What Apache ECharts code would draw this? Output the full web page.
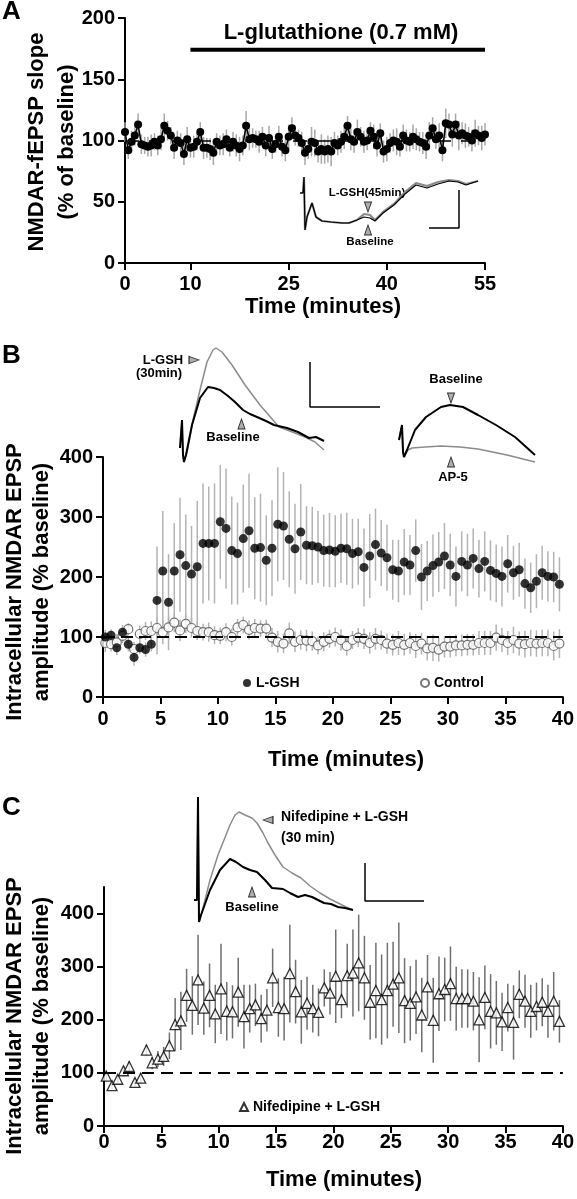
<!DOCTYPE html>
<html><head><meta charset="utf-8">
<script src="https://cdn.jsdelivr.net/npm/echarts@6/dist/echarts.min.js"></script>
<style>html,body{margin:0;padding:0;background:#fff}#c{width:577px;height:1199px}</style>
</head><body><div id="c"></div>
<script>
// ---------- Panel A data ----------
const timesA = [0,0.5,1,1.5,2,2.5,3,3.5,4,4.5,5,5.5,6,6.5,7,7.5,8,8.5,9,9.5,10,10.5,11,11.5,12,12.5,13,13.5,14,14.5,15,15.5,16,16.5,17,17.5,18,18.5,19,19.5,20,20.5,21,21.5,22,22.5,23,23.5,24,24.5,25,25.5,26,26.5,27,27.5,28,28.5,29,29.5,30,30.5,31,31.5,32,32.5,33,33.5,34,34.5,35,35.5,36,36.5,37,37.5,38,38.5,39,39.5,40,40.5,41,41.5,42,42.5,43,43.5,44,44.5,45,45.5,46,46.5,47,47.5,48,48.5,49,49.5,50,50.5,51,51.5,52,52.5,53,53.5,54,54.5,55];
const slopeA = [107,92,99,104,113,97,96,95,96,99,96,101,112,108,104,94,100,98,89,101,94,95,99,107,94,94,93,90,99,96,97,101,94,99,96,93,96,112,101,102,101,99,103,96,102,93,97,103,95,92,103,110,104,102,98,90,93,99,98,91,93,91,93,91,98,96,99,103,112,101,99,107,103,99,100,108,103,96,106,91,93,98,100,99,95,104,100,99,103,101,99,98,95,104,110,101,104,92,114,113,105,113,104,106,104,103,100,106,104,102,105];
const semA = [8,7,9,8,9,8,7,8,9,7,8,9,10,8,7,9,8,8,9,10,8,9,7,8,9,8,9,10,7,8,9,8,7,8,9,10,8,12,9,8,7,9,8,9,10,8,7,9,8,9,10,9,8,7,9,10,8,12,11,9,12,10,11,12,9,8,9,10,8,9,9,10,8,9,8,7,10,9,8,9,10,8,9,11,8,9,9,8,10,9,8,9,10,11,9,8,10,9,12,9,10,9,12,9,10,8,9,11,8,10,9];
const drugWindowA = [10, 55];
const xTicksA = [0, 10, 25, 40, 55];
const yTicksA = [0, 50, 100, 150, 200];

// ---------- Panels B and C data ----------
const timesBC = [0.2,0.7,1.2,1.7,2.2,2.7,3.2,3.7,4.2,4.7,5.2,5.7,6.2,6.7,7.2,7.7,8.2,8.7,9.2,9.7,10.2,10.7,11.2,11.7,12.2,12.7,13.2,13.7,14.2,14.7,15.2,15.7,16.2,16.7,17.2,17.7,18.2,18.7,19.2,19.7,20.2,20.7,21.2,21.7,22.2,22.7,23.2,23.7,24.2,24.7,25.2,25.7,26.2,26.7,27.2,27.7,28.2,28.7,29.2,29.7,30.2,30.7,31.2,31.7,32.2,32.7,33.2,33.7,34.2,34.7,35.2,35.7,36.2,36.7,37.2,37.7,38.2,38.7,39.2,39.7];
const lgshB = [100,103,82,108,88,66,82,79,88,161,210,158,210,237,219,205,217,256,256,256,292,281,244,239,264,277,248,249,228,248,288,285,263,247,275,253,252,250,244,245,243,248,247,239,242,216,235,254,240,232,212,210,225,220,244,200,210,219,225,235,220,201,226,220,231,214,226,211,206,201,222,207,212,189,182,193,207,201,200,188];
const semLgshB = [12,10,12,12,12,14,10,12,12,90,100,80,80,95,85,80,110,100,95,100,95,100,90,85,90,95,85,90,75,80,95,90,80,75,80,65,65,60,60,62,60,58,60,58,55,65,70,60,55,55,50,52,55,50,52,55,50,52,50,55,52,50,50,52,50,48,50,50,48,50,48,45,45,42,42,45,45,42,42,45];
const controlB = [90,88,91,102,113,80,105,110,110,115,108,116,124,111,122,115,110,108,108,103,102,108,100,116,120,112,115,114,114,99,92,89,106,92,95,94,93,86,92,97,100,95,85,95,99,97,90,97,95,89,87,90,87,90,85,89,81,82,79,84,84,86,86,87,87,90,90,90,99,95,90,95,89,88,90,89,90,90,85,89];
const semControlB = [15,12,14,12,10,12,14,15,16,18,20,18,16,18,15,16,15,14,16,15,14,15,14,14,14,16,15,14,15,16,18,16,18,17,16,18,16,15,16,15,16,18,16,15,16,17,18,18,16,17,18,20,18,18,20,18,20,22,20,18,18,18,18,18,18,20,20,20,22,20,20,22,20,22,22,22,22,22,24,24];
const nifC = [94,76,88,104,112,82,90,143,119,126,131,151,191,198,246,227,275,222,246,211,258,216,215,252,206,221,228,202,218,279,223,221,287,253,215,231,221,214,260,250,282,238,283,288,307,279,233,255,238,255,267,279,236,231,243,209,262,199,249,257,268,240,240,240,235,200,242,216,213,196,223,195,248,235,216,225,233,216,235,197];
const semNifC = [8,6,8,8,10,8,10,10,12,15,18,25,50,55,50,55,85,50,60,55,85,55,50,65,60,45,40,45,40,55,55,60,92,60,60,50,45,45,35,40,88,35,60,82,91,79,70,90,85,90,80,104,80,70,70,70,60,80,70,60,70,60,55,55,55,80,60,70,60,55,45,70,45,50,50,45,45,50,55,40];
const baselineLevel = 100;
const yTicksC = [0, 100, 200, 300, 400];

// ---------- Inset traces (time, amplitude in arbitrary trace units) ----------
const traceA_LGSH = [[0,52],[3,52],[4,68],[5,15],[7,28],[12,42],[16,28],[22,24],[31,23],[42,22],[49,22],[57,25],[64,31],[70,30],[75,25],[83,33],[94,41],[105,53],[116,62],[127,59],[138,63],[149,65],[158,64],[166,61],[178,64]];
const traceA_Base = [[0,52],[3,52],[4,68],[5,15],[7,28],[12,42],[16,28],[22,24],[31,23],[42,22],[49,22],[57,25],[64,28],[70,27],[75,24],[83,32],[94,40],[105,51],[116,60],[127,57],[138,61],[149,64],[158,63],[166,60],[178,64]];
const traceB1_LGSH = [[5,22],[7,50],[8,15],[9,8],[12,18],[18,50],[25,80],[32,108],[38,120],[41,122],[47,118],[57,105],[70,85],[85,65],[104,43],[120,37],[130,33],[140,28],[149,20]];
const traceB1_Base = [[5,22],[7,50],[8,15],[9,8],[11,15],[17,45],[25,72],[33,83],[39,82],[45,80],[53,74],[60,68],[68,60],[75,56],[82,53],[91,49],[99,45],[112,42],[123,38],[134,32],[141,33],[149,29]];
const traceB2_Base = [[4,30],[7,45],[8,18],[9,13],[12,20],[20,40],[31,53],[46,63],[55,65],[68,63],[83,55],[101,45],[120,33],[140,15]];
const traceB2_AP5 = [[4,30],[7,45],[8,18],[9,13],[13,20],[17,22],[30,23],[46,24],[65,23],[83,21],[112,15],[140,8]];
const traceC_Nif = [[4,30],[7,30],[8,133],[9,8],[12,18],[20,50],[28,75],[34,90],[40,105],[45,115],[49,118],[55,115],[62,112],[67,107],[73,97],[78,87],[85,75],[93,63],[102,57],[111,52],[120,44],[130,37],[140,31],[148,27],[156,23],[163,20]];
const traceC_Base = [[4,30],[7,30],[8,133],[9,8],[11,15],[20,40],[30,60],[40,71],[46,68],[53,63],[60,60],[67,58],[75,50],[82,42],[93,41],[100,37],[108,33],[115,35],[122,33],[128,30],[134,27],[141,26],[148,23],[155,22],[163,20]];
const scaleBarA = [[129,17],[159,17],[159,55]];
const scaleBarB = [[135,108],[135,63],[205,63]];
const scaleBarC = [[175,67],[175,29],[234,29]];
const arrowsA = {down:[[68,38]], up:[[68,15]]};
const arrowsB1 = {right:[[19,110]], up:[[66.5,46]]};
const arrowsB2 = {down:[[56,72]], up:[[56,8]]};
const arrowsC = {left:[[78,110]], up:[[62,38]]};

// ---------- Chart ----------
const FONT = '"Liberation Sans", Arial, Helvetica, sans-serif';
const chart = echarts.init(document.getElementById('c'), null, {renderer:'canvas'});

function errBars(name, xi, times, vals, errs, color, width){
  return {
    name: name, type:'custom', xAxisIndex:xi, yAxisIndex:xi, z:1, silent:true,
    data: times.map((t,i)=>[t, vals[i], errs[i]]),
    renderItem: function(params, api){
      const x = api.value(0), y = api.value(1), e = api.value(2);
      const p1 = api.coord([x, y + e]), p2 = api.coord([x, y - e]);
      return {type:'line', shape:{x1:p1[0], y1:p1[1], x2:p2[0], y2:p2[1]},
        style:{stroke:color, lineWidth:width}};
    }
  };
}
const axisLineStyle = {show:true, lineStyle:{color:'#000', width:2}};
const tickStyle = {show:true, length:7, lineStyle:{color:'#000', width:2}};
const lblStyle = {color:'#000', fontSize:20, fontWeight:'bold', fontFamily:FONT};
function hiddenAxis(gi, max){ return {gridIndex:gi, type:'value', min:0, max:max, show:false, splitLine:{show:false}}; }
function traceSeries(gi, data, color, w){
  return {type:'line', xAxisIndex:gi, yAxisIndex:gi, data:data, showSymbol:false, symbol:'none',
    lineStyle:{color:color, width:w}, silent:true, z:3};
}
function arrowSeries(gi, data, rot){
  return {type:'scatter', xAxisIndex:gi, yAxisIndex:gi, data:data, symbol:'triangle', symbolSize:[7,10],
    symbolRotate:rot, itemStyle:{color:'#9a9a9a', borderColor:'#000', borderWidth:1}, silent:true, z:5};
}
function txt(x, y, s, size, align, rot){
  return {type:'text', x:x, y:y, rotation:rot||0, silent:true,
    style:{text:s, font:'bold '+size+'px '+FONT, fill:'#000', align:align||'center', verticalAlign:'middle',
      textAlign:align||'center', textVerticalAlign:'middle'}};
}
const dashLine = function(dash){
  return {silent:true, symbol:'none', label:{show:false},
    lineStyle:{color:'#000', width:2, type:dash},
    data:[{yAxis:baselineLevel}]};
};

const option = {
  backgroundColor:'#fff',
  animation:false,
  grid:[
    {left:125, top:18, width:360, height:245},
    {left:103, top:457, width:461, height:240},
    {left:104, top:887, width:460, height:239},
    {left:300, top:170, width:185, height:75},
    {left:175, top:340, width:210, height:130},
    {left:395, top:390, width:150, height:80},
    {left:190, top:795, width:240, height:135}
  ],
  xAxis:[
    {gridIndex:0, type:'value', min:0, max:55, axisLine:axisLineStyle,
      axisTick:Object.assign({customValues:xTicksA}, tickStyle),
      axisLabel:Object.assign({customValues:xTicksA, margin:11}, lblStyle), splitLine:{show:false}},
    {gridIndex:1, type:'value', min:0, max:40, interval:5, axisLine:axisLineStyle, axisTick:tickStyle,
      axisLabel:Object.assign({margin:12}, lblStyle), splitLine:{show:false}},
    {gridIndex:2, type:'value', min:0, max:40, interval:5, axisLine:axisLineStyle, axisTick:tickStyle,
      axisLabel:Object.assign({margin:6}, lblStyle), splitLine:{show:false}},
    hiddenAxis(3,185), hiddenAxis(4,210), hiddenAxis(5,150), hiddenAxis(6,240)
  ],
  yAxis:[
    {gridIndex:0, type:'value', min:0, max:200, interval:50, axisLine:axisLineStyle, axisTick:tickStyle,
      axisLabel:Object.assign({margin:10}, lblStyle), splitLine:{show:false}},
    {gridIndex:1, type:'value', min:0, max:400, interval:100, axisLine:axisLineStyle, axisTick:tickStyle,
      axisLabel:Object.assign({margin:10}, lblStyle), splitLine:{show:false}},
    {gridIndex:2, type:'value', min:0, max:450, axisLine:axisLineStyle,
      axisTick:Object.assign({customValues:yTicksC}, tickStyle),
      axisLabel:Object.assign({customValues:yTicksC, margin:10}, lblStyle), splitLine:{show:false}},
    hiddenAxis(3,75), hiddenAxis(4,130), hiddenAxis(5,80), hiddenAxis(6,135)
  ],
  legend:[
    {data:['L-GSH'], left:243, top:676, padding:0, itemWidth:8, itemHeight:8, selectedMode:false,
      textStyle:{fontSize:14, fontWeight:'bold', fontFamily:FONT, color:'#000'}},
    {data:['Control'], left:420, top:676, padding:0, itemWidth:8, itemHeight:8, selectedMode:false,
      textStyle:{fontSize:14, fontWeight:'bold', fontFamily:FONT, color:'#000'}},
    {data:['Nifedipine + L-GSH'], left:239, top:1100, padding:0, itemWidth:8, itemHeight:8, selectedMode:false,
      textStyle:{fontSize:14, fontWeight:'bold', fontFamily:FONT, color:'#000'}}
  ],
  series:[
    // Panel A
    errBars('A sem', 0, timesA, slopeA, semA, '#a8a8a8', 1.5),
    {name:'fEPSP', type:'line', xAxisIndex:0, yAxisIndex:0, data:timesA.map((t,i)=>[t, slopeA[i]]),
      symbol:'circle', symbolSize:8, itemStyle:{color:'#000'}, lineStyle:{color:'#000', width:1.6}, z:3,
      markLine:{silent:true, symbol:'none', label:{show:false}, lineStyle:{color:'#000', width:1.5, type:[14,10]}, data:[{yAxis:baselineLevel}]}},
    {name:'L-glutathione', type:'line', xAxisIndex:0, yAxisIndex:0,
      data:[[drugWindowA[0],174],[drugWindowA[1],174]], symbol:'none', lineStyle:{color:'#000', width:4}, silent:true},
    // Panel B
    errBars('Control sem', 1, timesBC, controlB, semControlB, '#b4b4b4', 1.5),
    errBars('L-GSH sem', 1, timesBC, lgshB, semLgshB, '#b4b4b4', 1.5),
    {name:'Control', type:'scatter', xAxisIndex:1, yAxisIndex:1, data:timesBC.map((t,i)=>[t, controlB[i]]),
      symbol:'circle', symbolSize:9, itemStyle:{color:'#fff', borderColor:'#555', borderWidth:1.2}, z:3,
      markLine:dashLine([12,6])},
    {name:'L-GSH', type:'scatter', xAxisIndex:1, yAxisIndex:1, data:timesBC.map((t,i)=>[t, lgshB[i]]),
      symbol:'circle', symbolSize:9, itemStyle:{color:'#000'}, z:4},
    // Panel C
    errBars('Nif sem', 2, timesBC, nifC, semNifC, '#707070', 1.5),
    {name:'Nifedipine + L-GSH', type:'scatter', xAxisIndex:2, yAxisIndex:2, data:timesBC.map((t,i)=>[t, nifC[i]]),
      symbol:'triangle', symbolSize:10, itemStyle:{color:'#fff', borderColor:'#000', borderWidth:1.3}, z:4,
      markLine:dashLine([12,7])},
    // Insets
    traceSeries(3, traceA_LGSH, '#8a8a8a', 2.2),
    traceSeries(3, traceA_Base, '#000', 1.2),
    traceSeries(3, scaleBarA, '#000', 1.5),
    arrowSeries(3, arrowsA.down, 180), arrowSeries(3, arrowsA.up, 0),
    traceSeries(4, traceB1_LGSH, '#8c8c8c', 1.5),
    traceSeries(4, traceB1_Base, '#000', 2),
    traceSeries(4, scaleBarB, '#000', 1.5),
    arrowSeries(4, arrowsB1.right, -90), arrowSeries(4, arrowsB1.up, 0),
    traceSeries(5, traceB2_AP5, '#8c8c8c', 1.5),
    traceSeries(5, traceB2_Base, '#000', 2),
    arrowSeries(5, arrowsB2.down, 180), arrowSeries(5, arrowsB2.up, 0),
    traceSeries(6, traceC_Nif, '#8c8c8c', 1.5),
    traceSeries(6, traceC_Base, '#000', 2),
    traceSeries(6, scaleBarC, '#000', 1.5),
    arrowSeries(6, arrowsC.left, 90), arrowSeries(6, arrowsC.up, 0)
  ],
  graphic:[
    txt(2, 12, 'A', 26, 'left'),
    txt(2, 356, 'B', 26, 'left'),
    txt(2, 808, 'C', 26, 'left'),
    txt(341, 33, 'L-glutathione (0.7 mM)', 22),
    txt(323, 307, 'Time (minutes)', 22),
    txt(346, 760, 'Time (minutes)', 22),
    txt(344, 1180, 'Time (minutes)', 22),
    txt(37, 142, 'NMDAR-fEPSP slope', 22, 'center', Math.PI/2),
    txt(67, 142, '(% of baseline)', 22, 'center', Math.PI/2),
    txt(15, 582, 'Intracellular NMDAR EPSP', 22, 'center', Math.PI/2),
    txt(42, 582, 'amplitude (% baseline)', 22, 'center', Math.PI/2),
    txt(15, 1016, 'Intracellular NMDAR EPSP', 22, 'center', Math.PI/2),
    txt(42, 1016, 'amplitude (% baseline)', 22, 'center', Math.PI/2),
    txt(367, 193, 'L-GSH(45min)', 11.5),
    txt(370, 242, 'Baseline', 11.5),
    txt(163, 360, 'L-GSH', 13),
    txt(159, 373, '(30min)', 13),
    txt(233, 437, 'Baseline', 13),
    txt(456, 379, 'Baseline', 13),
    txt(453, 477, 'AP-5', 13),
    txt(281, 817, 'Nifedipine + L-GSH', 14, 'left'),
    txt(281, 838, '(30 min)', 14, 'left'),
    txt(252, 907, 'Baseline', 13)
  ]
};
chart.setOption(option);
</script>
</body></html>
